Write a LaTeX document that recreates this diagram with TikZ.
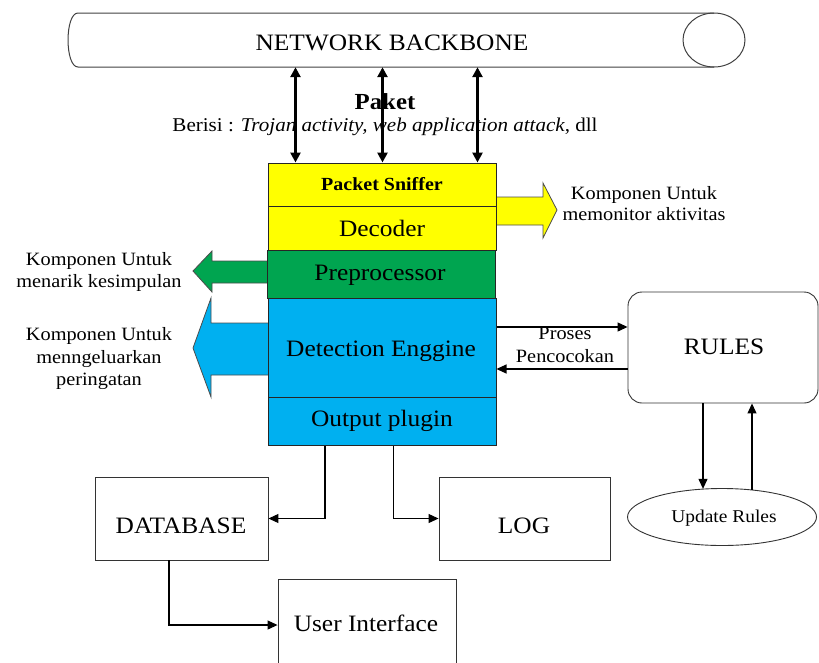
\documentclass[tikz,border=0pt]{standalone}
\usepackage{fontspec}
\setmainfont{Liberation Serif}[FakeStretch=1.08]
\usetikzlibrary{arrows.meta,shapes.geometric}
\definecolor{ylw}{RGB}{255,255,0}
\definecolor{grn}{RGB}{0,165,80}
\definecolor{blu}{RGB}{0,176,240}
\begin{document}
\begin{tikzpicture}[x=1pt,y=-1pt,
  line join=miter,
  arr/.style={draw=black, line width=1.1pt, -{Triangle[length=10pt,width=9pt]}},
  dblarr/.style={draw=black, line width=2.5pt, {Triangle[length=10pt,width=10pt]}-{Triangle[length=10pt,width=10pt]}},
  stackbox/.style={draw=black!85, line width=1pt, minimum width=228pt, inner sep=0},
  plainbox/.style={draw=black!80, line width=0.9pt, inner sep=0},
  big/.style={font=\fontsize{23.5}{26}\selectfont, inner sep=0, anchor=base},
  small/.style={font=\fontsize{18.8}{22}\selectfont, inner sep=0, anchor=base},
  blockarr/.style={draw=black!70, line width=0.8pt},
]
\useasboundingbox (0,0) rectangle (819,662);
\clip (0,0) rectangle (819,662);

% network backbone
\node[inner sep=0, minimum width=677pt, minimum height=54pt] (bb) at (406.5,40) {};
\draw[line width=1pt, black!75] (714,13) -- (78,13) .. controls (64.7,13) and (64.7,67) .. (78,67) -- (714,67);
\draw[line width=1pt, black!75] (714,40) ellipse [x radius=31, y radius=27];
\node[big] (bbt) at (392,50) {NETWORK BACKBONE};

% paket text
\node[big, font=\fontsize{23}{26}\selectfont\bfseries] (paket) at (385,109) {Paket};
\node[small, font=\fontsize{19.5}{22}\selectfont] (berisi) at (385,131) {Berisi : \textit{Trojan activity, web application attack}, dll};

% block arrows
\draw[blockarr, fill=ylw] (496,197) -- (543,197) -- (543,183) -- (557,210) -- (543,238) -- (543,225) -- (496,225);
\draw[blockarr, fill=grn] (268,261) -- (212,261) -- (212,251) -- (193,271) -- (212,292) -- (212,283) -- (268,283);
\draw[blockarr, fill=blu] (268,323) -- (211,323) -- (211,298) -- (193,348) -- (211,397) -- (211,375) -- (268,375);

% stack
\node[stackbox, fill=ylw, minimum height=43pt] (sniff) at (382,184.5) {};
\node[stackbox, fill=ylw, minimum height=44pt] (dec) at (382,228) {};
\node[stackbox, fill=grn, minimum height=48pt] (prep) at (381,274) {};
\node[stackbox, fill=blu, minimum height=99pt] (det) at (382,347.5) {};
\node[stackbox, fill=blu, minimum height=48pt] (outp) at (382,421) {};
\node[small, font=\fontsize{18.5}{22}\selectfont\bfseries] (sniffT) at (382,190) {Packet Sniffer};
\node[big] (decT) at (382,236) {Decoder};
\node[big] (prepT) at (380,280) {Preprocessor};
\node[big] (detT) at (381,356) {Detection Enggine};
\node[big] (outpT) at (382,426) {Output plugin};

% backbone arrows
\foreach \s/\n in {28/a1,115/a2,210/a3}{
  \coordinate (\n) at ([xshift=\s pt]sniff.north west);
  \draw[dblarr] (\n) -- (\n |- bb.south);
}

% side labels
\node[small] (r1) at (644,199) {Komponen Untuk};
\node[small] (r2) at (644,220) {memonitor aktivitas};
\node[small] (l1) at (99,265) {Komponen Untuk};
\node[small] (l2) at (99,287) {menarik kesimpulan};
\node[small] (m1) at (99,340) {Komponen Untuk};
\node[small] (m2) at (99,363) {menngeluarkan};
\node[small] (m3) at (99,385) {peringatan};

% rules
\node[plainbox, rounded corners=14pt, minimum width=190pt, minimum height=111pt] (rules) at (723,347.5) {};
\node[big] (rulesT) at (724,354) {RULES};
\coordinate (p1) at ([yshift=20.5pt]det.east);
\coordinate (p2) at ([yshift=-21.5pt]det.east);
\draw[arr] (p1) -- (p1 -| rules.west);
\draw[arr] (p2 -| rules.west) -- (p2);
\node[small] (pr1) at (565,339) {Proses};
\node[small] (pr2) at (565,362) {Pencocokan};

\node[plainbox, ellipse, minimum width=189pt, minimum height=57pt] (upd) at (722,517) {};
\node[small, font=\fontsize{18}{22}\selectfont] (updT) at (724,522) {Update Rules};
\draw[arr] ([xshift=-20pt]rules.south) -- ([xshift=-20pt,yshift=-0.8pt]rules.south |- upd.north);
\draw[arr] ([xshift=29pt,yshift=-1.5pt]rules.south |- upd.north) -- ([xshift=29pt]rules.south);

% bottom boxes
\node[plainbox, minimum width=173pt, minimum height=83pt] (db) at (181.5,518.5) {};
\node[big] (dbT) at (181,533) {DATABASE};
\node[plainbox, minimum width=171pt, minimum height=83pt] (log) at (524.5,518.5) {};
\node[big] (logT) at (524,533) {LOG};
\node[plainbox, minimum width=178pt, minimum height=92pt] (ui) at (367,625) {};
\node[big] (uiT) at (366,631) {User Interface};

\draw[arr] ([xshift=57.5pt]outp.south west) |- (db.east);
\draw[arr] ([xshift=126pt]outp.south west) |- (log.west);
\draw[arr] ([xshift=-12.5pt]db.south) |- (ui.west);
\end{tikzpicture}
\end{document}
